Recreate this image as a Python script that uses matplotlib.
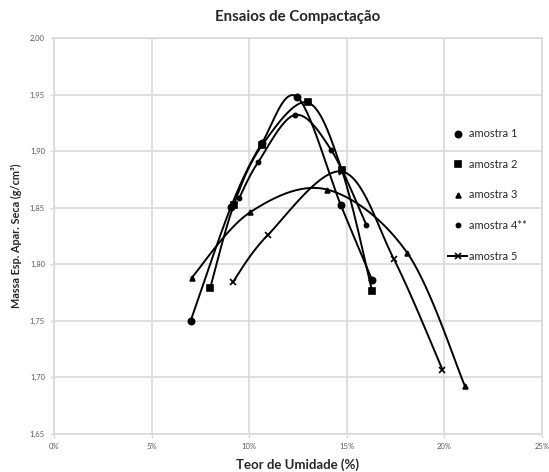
import numpy as np
import matplotlib
matplotlib.use("Agg")
import matplotlib.pyplot as plt
from matplotlib.lines import Line2D
from matplotlib.ticker import FuncFormatter, MultipleLocator

plt.rcParams['font.family'] = ['Lato', 'DejaVu Sans']

title = "Ensaios de Compactação"
xlabel = "Teor de Umidade (%)"
ylabel = "Massa Esp. Apar. Seca (g/cm³)"
names = ["amostra 1", "amostra 2", "amostra 3", "amostra 4**", "amostra 5"]

# moisture (fraction) and dry density (g/cm3)
x1 = [0.0700, 0.0907, 0.1065, 0.1245, 0.1470, 0.1630]
y1 = [1.750, 1.851, 1.907, 1.948, 1.852, 1.786]
x2 = [0.0800, 0.0920, 0.1065, 0.1300, 0.1475, 0.1630]
y2 = [1.779, 1.852, 1.905, 1.943, 1.883, 1.776]
x3 = [0.0705, 0.1005, 0.1400, 0.1810, 0.2106]
y3 = [1.788, 1.846, 1.866, 1.810, 1.692]
x4 = [0.0950, 0.1045, 0.1235, 0.1420, 0.1600]
y4 = [1.859, 1.890, 1.932, 1.901, 1.835]
x5 = [0.0915, 0.1096, 0.1475, 0.1740, 0.1990]
y5 = [1.784, 1.826, 1.882, 1.805, 1.707]

markers = ['o', 's', '^', 'o', 'x']
msizes = [4.5, 4.5, 3.5, 3, 4]


def smooth(xs, ys, n=30):
    # Excel-like smoothed line (Catmull-Rom Bezier)
    P = np.column_stack([xs, ys]).astype(float)
    m = len(P)
    out = [P[0]]
    t = np.linspace(0, 1, n)[1:, None]
    for i in range(m - 1):
        p0 = P[i]
        p3 = P[i + 1]
        pm = P[i - 1] if i > 0 else P[i]
        pp = P[i + 2] if i + 2 < m else P[i + 1]
        c1 = p0 + (p3 - pm) / 6.0
        c2 = p3 - (pp - p0) / 6.0
        seg = ((1 - t) ** 3) * p0 + 3 * ((1 - t) ** 2) * t * c1 + 3 * (1 - t) * t ** 2 * c2 + t ** 3 * p3
        out.extend(seg)
    out = np.array(out)
    return out[:, 0], out[:, 1]


fig = plt.figure(figsize=(5.49, 4.72), dpi=100)
ax = fig.add_axes([54 / 549, 1 - 434 / 472, 488 / 549, 396 / 472])

series = [(x1, y1), (x2, y2), (x3, y3), (x4, y4), (x5, y5)]
for (xs, ys), mk, ms in zip(series, markers, msizes):
    sx, sy = smooth(xs, ys)
    ax.plot(sx, sy, color='black', lw=1.4, zorder=3)
    ax.plot(xs, ys, linestyle='none', marker=mk, ms=ms, color='black',
            mew=1.2, zorder=4)

ax.set_xlim(0, 0.25)
ax.set_ylim(1.65, 2.00)
ax.xaxis.set_major_locator(MultipleLocator(0.05))
ax.yaxis.set_major_locator(MultipleLocator(0.05))
ax.xaxis.set_major_formatter(FuncFormatter(lambda v, p: f"{v*100:.0f}%"))
ax.yaxis.set_major_formatter(FuncFormatter(lambda v, p: f"{v:.2f}".replace('.', ',')))
ax.grid(True, color='#d9d9d9', lw=1.2, zorder=0)
for s in ax.spines.values():
    s.set_color('#d9d9d9')
    s.set_linewidth(1.2)
ax.tick_params(axis='both', colors='#d9d9d9', labelcolor='#595959', labelsize=5.5,
               length=3, width=1)

ax.set_title(title, fontsize=10.8, fontweight='bold', color='#262626', pad=12)
ax.set_xlabel(xlabel, fontsize=9.5, fontweight='bold', color='#262626', labelpad=6)
ax.set_ylabel(ylabel, fontsize=7.8, fontweight='bold', color='#262626', labelpad=6)

handles = []
for i, (mk, ms) in enumerate(zip(markers, msizes)):
    ls = '-' if i == 4 else 'none'
    handles.append(Line2D([], [], color='black', marker=mk, ms=ms, linestyle=ls,
                          lw=1.4, mew=1.2))
leg = fig.legend(handles, names, loc='upper left', bbox_to_anchor=(444 / 549, 1 - 124 / 472),
                 frameon=False, fontsize=7.9, handlelength=1.7, handletextpad=0.15,
                 labelspacing=1.78, borderaxespad=0)
for t in leg.get_texts():
    t.set_color('#262626')

fig.savefig('out.png', dpi=100)
